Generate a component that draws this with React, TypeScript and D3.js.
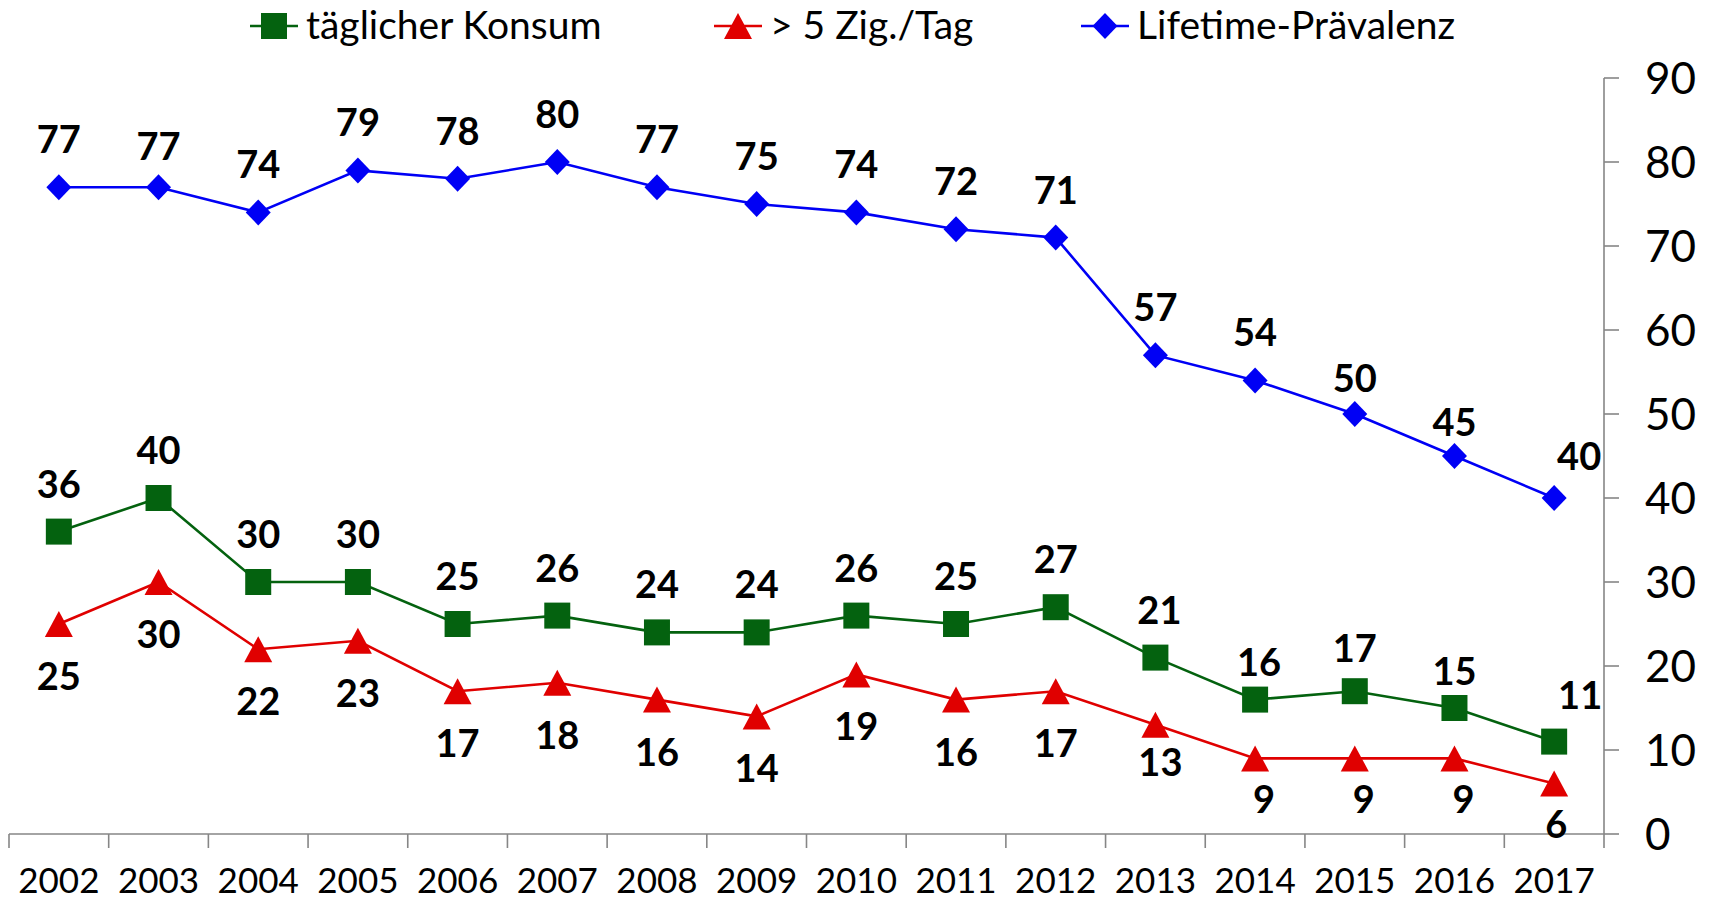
import * as d3 from 'd3';

// Data
const years = ['2002', '2003', '2004', '2005', '2006', '2007', '2008', '2009', '2010', '2011', '2012', '2013', '2014', '2015', '2016', '2017'];
const lifetime = [77, 77, 74, 79, 78, 80, 77, 75, 74, 72, 71, 57, 54, 50, 45, 40];
const daily = [36, 40, 30, 30, 25, 26, 24, 24, 26, 25, 27, 21, 16, 17, 15, 11];
const overFive = [25, 30, 22, 23, 17, 18, 16, 14, 19, 16, 17, 13, 9, 9, 9, 6];
const yTicks = [0, 10, 20, 30, 40, 50, 60, 70, 80, 90];

// label nudges [dx, dy] by index (manually placed labels in the original)
const lifetimeNudge: Record<number, [number, number]> = { 1: [0, 7], 13: [0, 12], 14: [0, 14], 15: [25, 6] };
const dailyNudge: Record<number, [number, number]> = { 11: [4, 0], 12: [4, 10], 13: [0, 5], 14: [0, 11], 15: [26, 1] };
const overFiveNudge: Record<number, [number, number]> = { 11: [5, -15], 12: [9, -11], 13: [9, -11], 14: [9, -11], 15: [2, -12] };

const W = 1716;
const H = 902;
const font = 'Lato, "Open Sans", sans-serif';

const GREEN = '#04620f';
const RED = '#e00000';
const BLUE = '#0000f5';
const AXIS = '#868686';

const x = d3.scaleBand().domain(years).range([9, 1604]);
const y = d3.scaleLinear().domain([0, 90]).range([834, 78]);
const cx = (d: string) => (x(d) ?? 0) + x.bandwidth() / 2;

function marker(kind: string, px: number, py: number, color: string, key: any) {
  if (kind === 'square') {
    return <rect key={key} x={px - 13} y={py - 13} width={26} height={26} fill={color} />;
  }
  if (kind === 'triangle') {
    return <path key={key} d={`M${px},${py - 13}L${px + 14},${py + 13}L${px - 14},${py + 13}Z`} fill={color} />;
  }
  return <path key={key} d={`M${px},${py - 13}L${px + 12.5},${py}L${px},${py + 13}L${px - 12.5},${py}Z`} fill={color} />;
}

function Series({ values, color, kind, above, nudge }: any) {
  const line = d3
    .line<number>()
    .x((_, i) => cx(years[i]))
    .y((v) => y(v));
  return (
    <g>
      <path d={line(values) ?? ''} fill="none" stroke={color} strokeWidth={2.6} />
      {values.map((v: number, i: number) => marker(kind, cx(years[i]), y(v), color, i))}
      {values.map((v: number, i: number) => {
        const [dx, dy] = nudge[i] ?? [0, 0];
        const base = above ? y(v) - 34 : y(v) + 66;
        return (
          <text
            key={'l' + i}
            x={cx(years[i]) + dx}
            y={base + dy}
            textAnchor="middle"
            fontFamily={font}
            fontWeight="bold"
            fontSize={38}
            fill="#000"
          >
            {v}
          </text>
        );
      })}
    </g>
  );
}

export default function App() {
  const legend = [
    { label: 'täglicher Konsum', color: GREEN, kind: 'square', x0: 250 },
    { label: '> 5 Zig./Tag', color: RED, kind: 'triangle', x0: 714 },
    { label: 'Lifetime-Prävalenz', color: BLUE, kind: 'diamond', x0: 1081 },
  ];
  const edges = years.map((d) => x(d) ?? 0).concat([1604]);

  return (
    <svg width={W} height={H} style={{ position: 'absolute', left: 0, top: 0, background: '#fff' }}>
      {/* legend */}
      {legend.map((l, i) => (
        <g key={i}>
          <line x1={l.x0} x2={l.x0 + 48} y1={26} y2={26} stroke={l.color} strokeWidth={2.6} />
          {marker(l.kind, l.x0 + 24, 26, l.color, 'm')}
          <text x={l.x0 + 56} y={39} fontFamily={font} fontSize={39} fill="#000">
            {l.label}
          </text>
        </g>
      ))}

      {/* x axis */}
      <line x1={9} x2={1604} y1={y(0)} y2={y(0)} stroke={AXIS} strokeWidth={1.6} />
      {edges.map((e, i) => (
        <line key={i} x1={e} x2={e} y1={y(0)} y2={y(0) + 14} stroke={AXIS} strokeWidth={1.6} />
      ))}
      {years.map((d) => (
        <text key={d} x={cx(d)} y={893} textAnchor="middle" fontFamily={font} fontSize={35} fill="#000">
          {d}
        </text>
      ))}

      {/* y axis (right) */}
      <line x1={1604} x2={1604} y1={y(90)} y2={y(0)} stroke={AXIS} strokeWidth={1.6} />
      {yTicks.map((t) => (
        <g key={t}>
          <line x1={1604} x2={1619} y1={y(t)} y2={y(t)} stroke={AXIS} strokeWidth={1.6} />
          <text x={1645} y={y(t) + 16} fontFamily={font} fontSize={44} fill="#000">
            {t}
          </text>
        </g>
      ))}

      <Series values={lifetime} color={BLUE} kind="diamond" above nudge={lifetimeNudge} />
      <Series values={daily} color={GREEN} kind="square" above nudge={dailyNudge} />
      <Series values={overFive} color={RED} kind="triangle" above={false} nudge={overFiveNudge} />
    </svg>
  );
}
